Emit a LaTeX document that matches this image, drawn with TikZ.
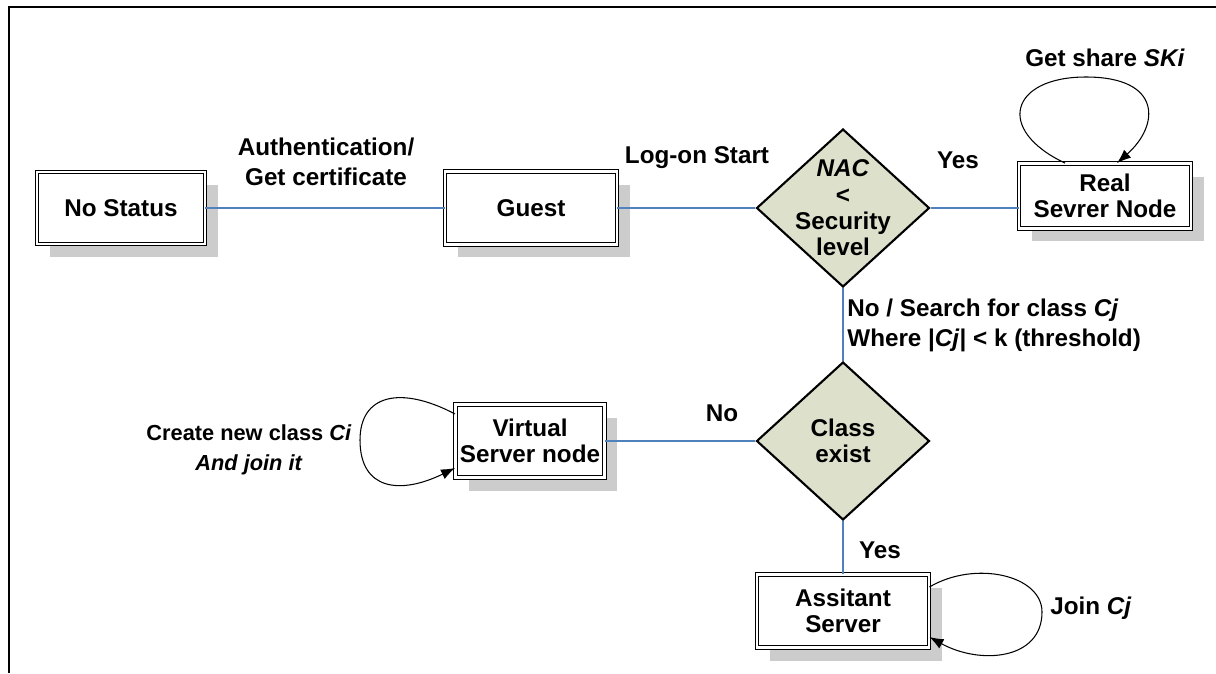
\documentclass[tikz,border=0pt]{standalone}
\usepackage{fontspec}
\setmainfont{Liberation Sans}
\usetikzlibrary{positioning,shapes.geometric,shadows,arrows.meta}
\definecolor{decfill}{RGB}{221,224,203}
\definecolor{linkblue}{RGB}{79,129,189}

\begin{document}
\begin{tikzpicture}
[x=0.02cm, y=-0.02cm, font=\fontsize{13.8}{15}\selectfont\bfseries,
  statebox/.style={draw, double, double distance=1.5pt, line width=0.5pt, fill=white,
    align=center, inner sep=2pt,
    drop shadow={shadow xshift=0.26cm, shadow yshift=-0.26cm, fill=black!20, opacity=1}},
  decision/.style={diamond, draw, line width=1.2pt, fill=decfill, inner sep=0pt,
    minimum width=3.46cm, minimum height=3.16cm},
  dectext/.style={align=center, inner sep=0pt},
  link/.style={draw=linkblue, line width=0.6pt},
  selfloop/.style={-{Latex[length=8pt,width=6pt]}, line width=0.6pt},
  lbl/.style={align=center, inner sep=0pt}]
  \useasboundingbox (0,0) rectangle (1216,673);
  \draw[line width=1.4pt] (9,673) -- (9,7) -- (1216,7);

  \node[statebox, minimum width=3.36cm, minimum height=1.44cm] (nostatus) at (121,208) {No Status};
  \node[statebox, minimum width=3.44cm, minimum height=1.46cm] (guest) at (531,208) {Guest};
  \node[decision, label={[dectext]center:\textit{NAC}\\<\\Security\\level}] (nac) at (843,208) {};
  \node[statebox, minimum width=3.44cm, minimum height=1.3cm] (real) at (1105,196) {Real\\Sevrer Node};
  \node[decision, label={[dectext]center:Class\\exist}] (classex) at (843,441) {};
  \node[statebox, minimum width=2.98cm, minimum height=1.46cm] (virtual) at (530,441) {Virtual\\Server node};
  \node[statebox, minimum width=3.44cm, minimum height=1.46cm] (assit) at (843,611) {Assitant\\Server};

  \node[lbl] (auth) at (326,162) {Authentication/\\[2pt]Get certificate};
  \node[lbl] (logon) at (697,158) {Log-on Start};
  \node[lbl] (yesreal) at (958,160) {Yes};
  \node[lbl] (getshare) at (1105,58) {Get share \textit{SKi}};
  \node[lbl, align=left, anchor=west] (nosearch) at (847,325)
    {No / Search for class \textit{Cj}\\[2pt]Where |\textit{Cj}| < k (threshold)};
  \node[lbl] (novirt) at (722,413) {No};
  \node[lbl, font=\fontsize{12.4}{15}\selectfont\bfseries] (create) at (249,450)
    {Create new class \textit{Ci}\\[2pt]\textit{And join it}};
  \node[lbl] (yesassit) at (880,550) {Yes};
  \node[lbl] (joincj) at (1091,608) {Join \textit{Cj}};

  \draw[link] (nostatus) -- (guest);
  \draw[link] (guest) -- (nac);
  \draw[link] (nac.east) -- (nac.east -| real.west);
  \draw[link] (nac) -- (classex);
  \draw[link] (classex) -- (virtual);
  \draw[link] (classex) -- (assit);

  \draw[selfloop] ([xshift=-0.8cm]real.north) .. controls (995,130) and (1010,77) .. (1086,77)
    .. controls (1162,77) and (1160,125) .. ([xshift=0.24cm]real.north);
  \draw[selfloop] ([yshift=0.54cm]virtual.west) .. controls (400,385) and (360,395) .. (360,440)
    .. controls (360,490) and (400,495) .. ([yshift=-0.54cm]virtual.west);
  \draw[selfloop] ([yshift=0.48cm]assit.east) .. controls (975,560) and (1042,575) .. (1042,612)
    .. controls (1042,660) and (980,665) .. ([yshift=-0.52cm]assit.east);
\end{tikzpicture}
\end{document}
